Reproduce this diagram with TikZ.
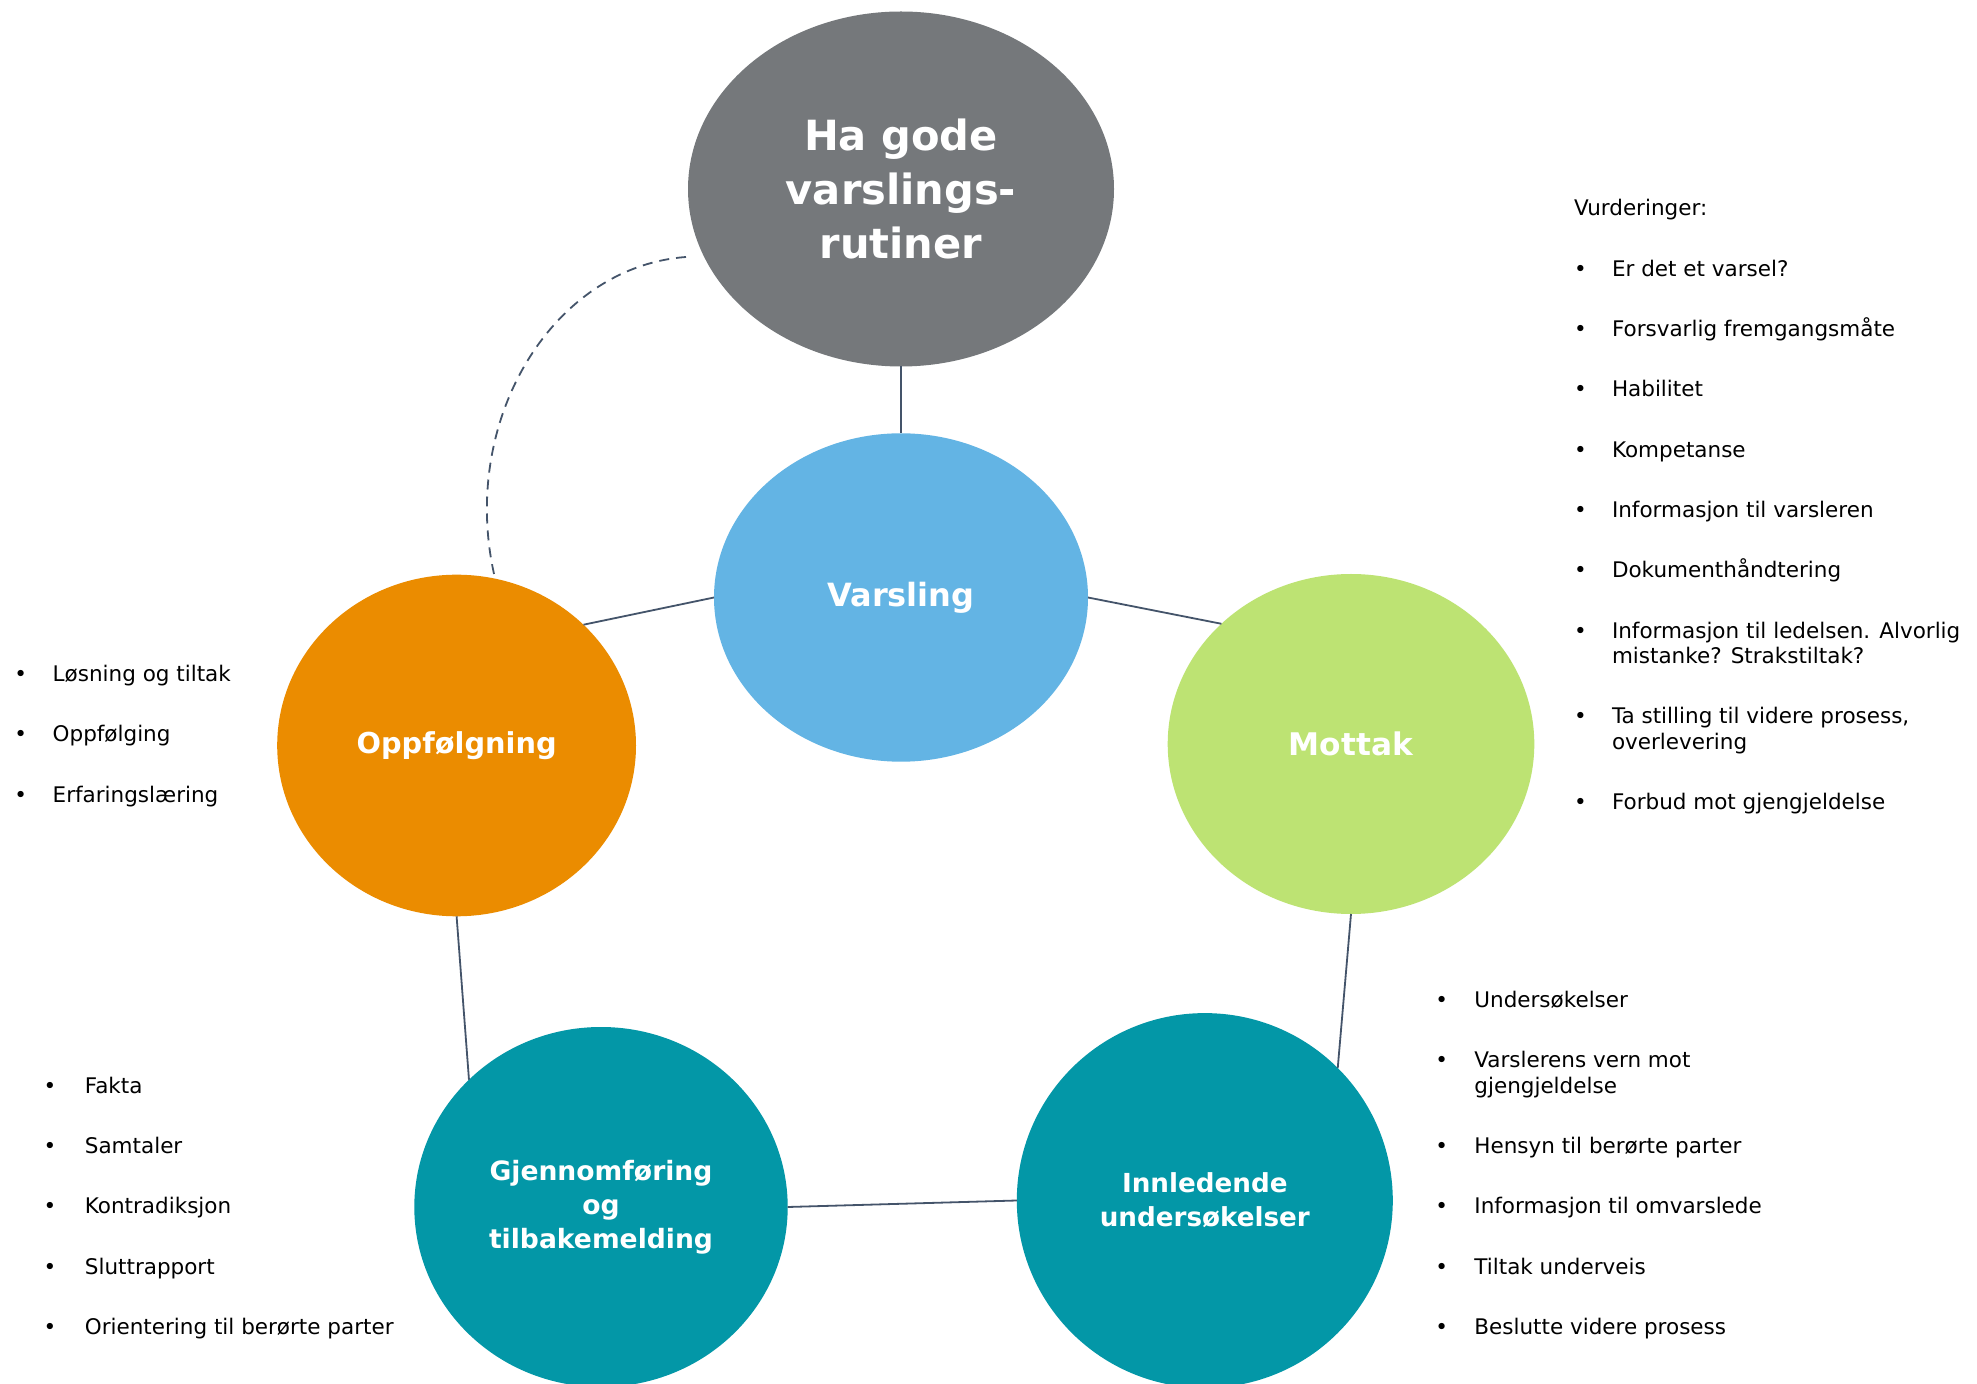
\documentclass[tikz,border=0pt]{standalone}
\usepackage{fontspec}
\setmainfont{DejaVu Sans}
\usetikzlibrary{shapes.geometric}
\definecolor{cgray}{HTML}{75787B}
\definecolor{cblue}{HTML}{63B4E4}
\definecolor{corange}{HTML}{EB8C00}
\definecolor{cgreen}{HTML}{BDE373}
\definecolor{cteal}{HTML}{0397A7}
\definecolor{cline}{HTML}{44546A}
\newlength\listH
\newcommand{\nl}{\hfil\break}
\newcommand{\bitem}[1]{\noindent\hangindent=\listH\hangafter=1\makebox[\listH][l]{•}#1\par}
\newcommand{\listbox}[2]{\parbox[t]{500pt}{\setlength\parskip{17.45pt}\setlength\listH{#1}#2}}
\tikzset{
  listnode/.style={anchor=base west, inner sep=0pt, outer sep=0pt, font=\fontsize{10.75}{12.7}\selectfont},
  bubble/.style={ellipse, inner sep=0pt, outer sep=0pt, text=white, align=center},
  conn/.style={draw=cline, line width=0.9pt},
  dashconn/.style={conn, dash pattern=on 5pt off 3.5pt},
}
\begin{document}
\begin{tikzpicture}[x=0.5pt, y=-0.5pt]
\useasboundingbox (0,0) rectangle (1977,1384);
\fill[white] (0,0) rectangle (1977,1384);

% bubbles
\node[bubble, fill=cgray, minimum width=213pt, minimum height=177.5pt,
      font=\fontsize{20.8}{27}\selectfont\bfseries] (top) at (901,189) {Ha gode\\varslings-\\rutiner};
\node[bubble, fill=cblue, minimum width=187pt, minimum height=164.2pt,
      font=\fontsize{16}{20}\selectfont\bfseries] (var) at (901,597.5) {Varsling};
\node[bubble, fill=corange, minimum width=179.4pt, minimum height=170.8pt,
      font=\fontsize{14.4}{18}\selectfont\bfseries] (opp) at (456.6,745.5) {Oppfølgning};
\node[bubble, fill=cgreen, minimum width=183.3pt, minimum height=170pt,
      font=\fontsize{15.6}{19}\selectfont\bfseries] (mot) at (1351,744) {Mottak};
\node[bubble, fill=cteal, minimum width=186.7pt, minimum height=180pt,
      font=\fontsize{13.3}{17}\selectfont\bfseries] (gj) at (601,1207) {Gjennomføring\\og\\tilbakemelding};
\node[bubble, fill=cteal, minimum width=188pt, minimum height=187.4pt,
      font=\fontsize{13.1}{17}\selectfont\bfseries] (inn) at (1204.8,1200.5) {Innledende\\undersøkelser};

% connectors
\draw[conn] (top.south) -- (var.north);
\draw[conn] (var.west) -- (opp.north east);
\draw[conn] (var.east) -- (mot.north west);
\draw[conn] (opp.south) -- (gj.north west);
\draw[conn] (mot.south) -- (inn.north east);
\draw[conn] (gj.east) -- (inn.west);
\coordinate (dstart) at (686,257);
\draw[dashconn] (dstart) .. controls (551,267) and (458,423) .. (opp.77);

% lists
\node[listnode] (lvurd) at (1574,216) {\listbox{19pt}{%
  \noindent Vurderinger:\par
  \bitem{Er det et varsel?}
  \bitem{Forsvarlig fremgangsmåte}
  \bitem{Habilitet}
  \bitem{Kompetanse}
  \bitem{Informasjon til varsleren}
  \bitem{Dokumenthåndtering}
  \bitem{Informasjon til ledelsen. Alvorlig\nl mistanke? Strakstiltak?}
  \bitem{Ta stilling til videre prosess,\nl overlevering}
  \bitem{Forbud mot gjengjeldelse}}};

\node[listnode] (lopp) at (14.4,681.7) {\listbox{19.15pt}{%
  \bitem{Løsning og tiltak}
  \bitem{Oppfølging}
  \bitem{Erfaringslæring}}};

\node[listnode] (lgj) at (43.7,1093.3) {\listbox{20.6pt}{%
  \bitem{Fakta}
  \bitem{Samtaler}
  \bitem{Kontradiksjon}
  \bitem{Sluttrapport}
  \bitem{Orientering til berørte parter}}};

\node[listnode] (linn) at (1435.4,1007.7) {\listbox{19.5pt}{%
  \bitem{Undersøkelser}
  \bitem{Varslerens vern mot\nl gjengjeldelse}
  \bitem{Hensyn til berørte parter}
  \bitem{Informasjon til omvarslede}
  \bitem{Tiltak underveis}
  \bitem{Beslutte videre prosess}}};
\end{tikzpicture}
\end{document}
